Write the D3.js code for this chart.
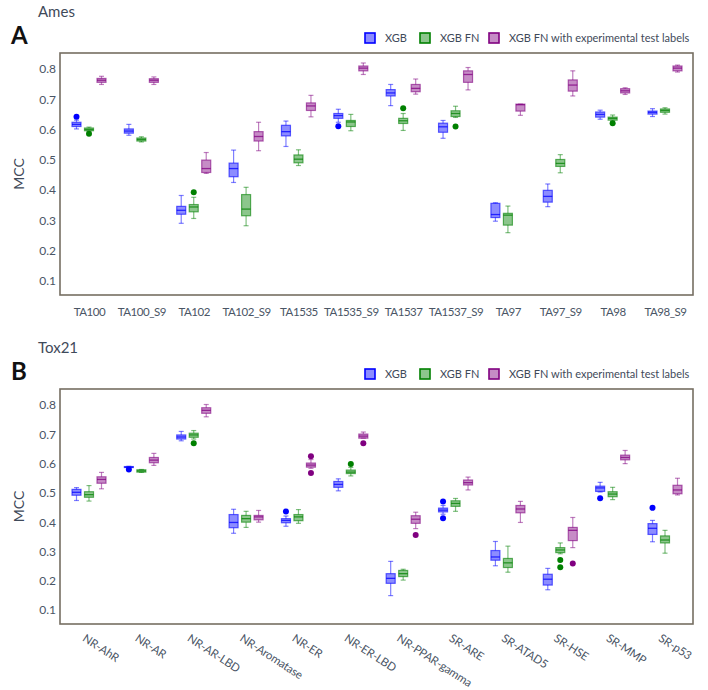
<!DOCTYPE html>
<html>
<head>
<meta charset="utf-8">
<script src="https://cdn.jsdelivr.net/npm/d3@7"></script>
<style>
  body { margin: 0; background: #fff; }
  svg { display: block; font-family: Lato, "Open Sans", sans-serif; }
</style>
</head>
<body>
<svg id="chart" width="708" height="690"></svg>
<script>
// ---------- DATA ----------
const seriesNames = ["XGB", "XGB FN", "XGB FN with experimental test labels"];
const seriesColors = ["#0000ff", "#008000", "#800080"];
const yTicks = [0.1, 0.2, 0.3, 0.4, 0.5, 0.6, 0.7, 0.8];

const amesCategories = ["TA100", "TA100_S9", "TA102", "TA102_S9", "TA1535", "TA1535_S9",
  "TA1537", "TA1537_S9", "TA97", "TA97_S9", "TA98", "TA98_S9"];
// each box: [lower whisker, q1, median, q3, upper whisker]
const amesXGB = [
  [0.602, 0.610, 0.617, 0.624, 0.631], [0.581, 0.588, 0.595, 0.602, 0.617],
  [0.290, 0.320, 0.333, 0.346, 0.382], [0.425, 0.444, 0.471, 0.489, 0.532],
  [0.544, 0.579, 0.593, 0.614, 0.628], [0.624, 0.637, 0.646, 0.653, 0.667],
  [0.679, 0.711, 0.721, 0.732, 0.749], [0.571, 0.591, 0.609, 0.621, 0.630],
  [0.297, 0.309, 0.319, 0.356, 0.358], [0.345, 0.360, 0.379, 0.399, 0.420],
  [0.634, 0.641, 0.650, 0.658, 0.664], [0.643, 0.651, 0.657, 0.661, 0.669]];
const amesXGBFN = [
  [0.594, 0.596, 0.600, 0.605, 0.608], [0.559, 0.562, 0.567, 0.572, 0.576],
  [0.306, 0.328, 0.344, 0.352, 0.376], [0.282, 0.315, 0.337, 0.385, 0.409],
  [0.481, 0.490, 0.502, 0.516, 0.533], [0.596, 0.610, 0.625, 0.630, 0.650],
  [0.597, 0.620, 0.629, 0.637, 0.653], [0.640, 0.643, 0.653, 0.662, 0.677],
  [0.259, 0.284, 0.317, 0.323, 0.347], [0.457, 0.478, 0.488, 0.501, 0.517],
  [0.628, 0.631, 0.637, 0.641, 0.648], [0.651, 0.657, 0.663, 0.668, 0.672]];
const amesXGBFNExp = [
  [0.749, 0.756, 0.763, 0.769, 0.776], [0.749, 0.756, 0.763, 0.768, 0.774],
  [0.455, 0.458, 0.471, 0.499, 0.524], [0.530, 0.562, 0.577, 0.593, 0.624],
  [0.642, 0.663, 0.678, 0.688, 0.713], [0.782, 0.794, 0.803, 0.810, 0.820],
  [0.717, 0.725, 0.736, 0.749, 0.767], [0.731, 0.756, 0.782, 0.794, 0.805],
  [0.647, 0.661, 0.682, 0.684, 0.684], [0.711, 0.727, 0.747, 0.764, 0.794],
  [0.716, 0.721, 0.728, 0.735, 0.738], [0.790, 0.794, 0.803, 0.810, 0.813]];
// outliers: [category, series index, value]
const amesOutliers = [
  ["TA100", 0, 0.642], ["TA100", 1, 0.586], ["TA102", 1, 0.393],
  ["TA1535_S9", 0, 0.611], ["TA1537", 1, 0.670], ["TA1537_S9", 1, 0.610],
  ["TA98", 1, 0.621]];

const toxCategories = ["NR-AhR", "NR-AR", "NR-AR-LBD", "NR-Aromatase", "NR-ER", "NR-ER-LBD",
  "NR-PPAR-gamma", "SR-ARE", "SR-ATAD5", "SR-HSE", "SR-MMP", "SR-p53"];
const toxXGB = [
  [0.474, 0.492, 0.502, 0.512, 0.518], [0.586, 0.587, 0.588, 0.590, 0.591],
  [0.678, 0.684, 0.691, 0.698, 0.710], [0.362, 0.381, 0.399, 0.426, 0.444],
  [0.386, 0.398, 0.406, 0.412, 0.421], [0.507, 0.519, 0.529, 0.539, 0.548],
  [0.149, 0.191, 0.208, 0.224, 0.266], [0.427, 0.435, 0.441, 0.448, 0.457],
  [0.251, 0.270, 0.281, 0.303, 0.334], [0.169, 0.185, 0.205, 0.222, 0.242],
  [0.503, 0.505, 0.517, 0.523, 0.536], [0.333, 0.358, 0.379, 0.395, 0.406]];
const toxXGBFN = [
  [0.472, 0.485, 0.494, 0.504, 0.525], [0.570, 0.571, 0.575, 0.579, 0.580],
  [0.684, 0.690, 0.698, 0.704, 0.713], [0.382, 0.400, 0.412, 0.423, 0.437],
  [0.396, 0.405, 0.418, 0.426, 0.443], [0.558, 0.566, 0.571, 0.578, 0.587],
  [0.202, 0.214, 0.224, 0.235, 0.239], [0.437, 0.454, 0.464, 0.473, 0.481],
  [0.229, 0.245, 0.261, 0.276, 0.318], [0.292, 0.296, 0.305, 0.313, 0.329],
  [0.477, 0.487, 0.496, 0.504, 0.519], [0.294, 0.329, 0.339, 0.353, 0.372]];
const toxXGBFNExp = [
  [0.514, 0.533, 0.546, 0.555, 0.570], [0.594, 0.603, 0.612, 0.621, 0.635],
  [0.760, 0.772, 0.782, 0.791, 0.802], [0.400, 0.408, 0.418, 0.423, 0.440],
  [0.584, 0.588, 0.595, 0.602, 0.614], [0.687, 0.687, 0.694, 0.701, 0.708],
  [0.378, 0.396, 0.410, 0.422, 0.434], [0.510, 0.527, 0.535, 0.544, 0.554],
  [0.399, 0.432, 0.445, 0.457, 0.471], [0.313, 0.337, 0.372, 0.382, 0.416],
  [0.600, 0.613, 0.621, 0.629, 0.645], [0.493, 0.497, 0.510, 0.526, 0.550]];
const toxOutliers = [
  ["NR-AR", 0, 0.580], ["NR-AR-LBD", 1, 0.670], ["NR-ER", 0, 0.436],
  ["NR-ER", 2, 0.625], ["NR-ER", 2, 0.568], ["NR-ER-LBD", 1, 0.599],
  ["NR-ER-LBD", 2, 0.670], ["NR-PPAR-gamma", 2, 0.356],
  ["SR-ARE", 0, 0.471], ["SR-ARE", 0, 0.413], ["SR-HSE", 1, 0.271],
  ["SR-HSE", 1, 0.246], ["SR-HSE", 2, 0.259], ["SR-MMP", 0, 0.482],
  ["SR-p53", 0, 0.449]];

// ---------- DRAWING ----------
const svg = d3.select("#chart");
const textColor = "#3f4a5a";
const frameColor = "#766e62";

function drawPanel(opt) {
  const g = svg.append("g");
  const x = d3.scalePoint().domain(opt.categories).range([89, 665]);
  const xs = d3.scalePoint().domain([0, 1, 2]).range([-12.5, 12.5]);
  const y = d3.scaleLinear().domain(opt.yDomain).range([opt.bottom, opt.top]);

  // titles
  g.append("text").attr("x", 38).attr("y", opt.top - 36)
    .attr("font-size", 15).attr("fill", textColor).text(opt.title);
  g.append("text").attr("x", 11).attr("y", opt.top - 9)
    .attr("font-size", 24).attr("font-weight", "bold").attr("fill", "#111").text(opt.letter);

  // legend
  const legendX = [365, 420, 489];
  const lg = g.selectAll("g.leg").data(seriesNames).join("g")
    .attr("transform", (d, i) => `translate(${legendX[i]},${opt.top - 15})`);
  lg.append("rect").attr("x", 0).attr("y", -5).attr("width", 10).attr("height", 10)
    .attr("fill", (d, i) => d3.color(seriesColors[i]).copy({opacity: 0.45}))
    .attr("stroke", (d, i) => seriesColors[i]).attr("stroke-width", 1.6);
  lg.append("text").attr("x", 20).attr("y", 0).attr("dy", "0.35em")
    .attr("font-size", 11).attr("fill", textColor).text(d => d);

  // y axis labels
  const yAxis = d3.axisLeft(y).tickValues(yTicks).tickSize(0).tickPadding(4)
    .tickFormat(d3.format(".1f"));
  const ya = g.append("g").attr("transform", `translate(60,0)`).call(yAxis);
  ya.select(".domain").remove();
  ya.selectAll("text").attr("font-size", 12).attr("fill", "#4a5565")
    .attr("font-family", "Lato, 'Open Sans', sans-serif");
  g.append("text").attr("transform", `translate(24,${(opt.top + opt.bottom) / 2}) rotate(-90)`)
    .attr("text-anchor", "middle").attr("font-size", 14).attr("fill", textColor).text("MCC");

  // frame
  g.append("rect").attr("x", 60).attr("y", opt.top).attr("width", 633)
    .attr("height", opt.bottom - opt.top).attr("fill", "none")
    .attr("stroke", frameColor).attr("stroke-width", 1.6);

  // x labels
  const xAxis = d3.axisBottom(x).tickSize(0).tickPadding(0);
  const xa = g.append("g").attr("transform", `translate(0,${opt.bottom})`).call(xAxis);
  xa.select(".domain").remove();
  xa.selectAll("text").attr("fill", "#4a5565")
    .attr("font-family", "Lato, 'Open Sans', sans-serif");
  if (opt.rotate) {
    xa.selectAll(".tick text").attr("font-size", 11.5).attr("letter-spacing", -0.2)
      .attr("text-anchor", "start").attr("y", 0).attr("dy", "0.75em")
      .attr("transform", "translate(-3,9) rotate(33)");
  } else {
    xa.selectAll(".tick text").attr("font-size", 11.5).attr("letter-spacing", -0.45)
      .attr("y", 12).attr("dy", "0.75em");
  }

  // boxes
  const bw = 9, cap = 5;
  opt.series.forEach((vals, si) => {
    const col = seriesColors[si];
    const sg = g.append("g");
    const b = sg.selectAll("g.box").data(vals.map((v, i) => ({cat: opt.categories[i], v})))
      .join("g").attr("transform", d => `translate(${x(d.cat) + xs(si)},0)`);
    b.append("line").attr("y1", d => y(d.v[0])).attr("y2", d => y(d.v[1]))
      .attr("stroke", col).attr("stroke-opacity", 0.5).attr("stroke-width", 1.2);
    b.append("line").attr("y1", d => y(d.v[3])).attr("y2", d => y(d.v[4]))
      .attr("stroke", col).attr("stroke-opacity", 0.5).attr("stroke-width", 1.2);
    b.append("line").attr("x1", -cap / 2).attr("x2", cap / 2)
      .attr("y1", d => y(d.v[0])).attr("y2", d => y(d.v[0]))
      .attr("stroke", col).attr("stroke-opacity", 0.5).attr("stroke-width", 1.2);
    b.append("line").attr("x1", -cap / 2).attr("x2", cap / 2)
      .attr("y1", d => y(d.v[4])).attr("y2", d => y(d.v[4]))
      .attr("stroke", col).attr("stroke-opacity", 0.5).attr("stroke-width", 1.2);
    b.append("rect").attr("x", -bw / 2).attr("width", bw)
      .attr("y", d => y(d.v[3])).attr("height", d => Math.max(1, y(d.v[1]) - y(d.v[3])))
      .attr("fill", col).attr("fill-opacity", 0.45)
      .attr("stroke", col).attr("stroke-opacity", 0.6).attr("stroke-width", 1.2);
    b.append("line").attr("x1", -bw / 2).attr("x2", bw / 2)
      .attr("y1", d => y(d.v[2])).attr("y2", d => y(d.v[2]))
      .attr("stroke", col).attr("stroke-opacity", 0.75).attr("stroke-width", 1.3);
  });

  // outliers
  g.selectAll("circle.out").data(opt.outliers).join("circle")
    .attr("cx", d => x(d[0]) + xs(d[1])).attr("cy", d => y(d[2])).attr("r", 3)
    .attr("fill", d => seriesColors[d[1]]);
}

drawPanel({
  title: "Ames", letter: "A", top: 53, bottom: 295, yDomain: [0.053, 0.853],
  categories: amesCategories, series: [amesXGB, amesXGBFN, amesXGBFNExp],
  outliers: amesOutliers, rotate: false
});
drawPanel({
  title: "Tox21", letter: "B", top: 389, bottom: 624, yDomain: [0.052, 0.855],
  categories: toxCategories, series: [toxXGB, toxXGBFN, toxXGBFNExp],
  outliers: toxOutliers, rotate: true
});
</script>
</body>
</html>
